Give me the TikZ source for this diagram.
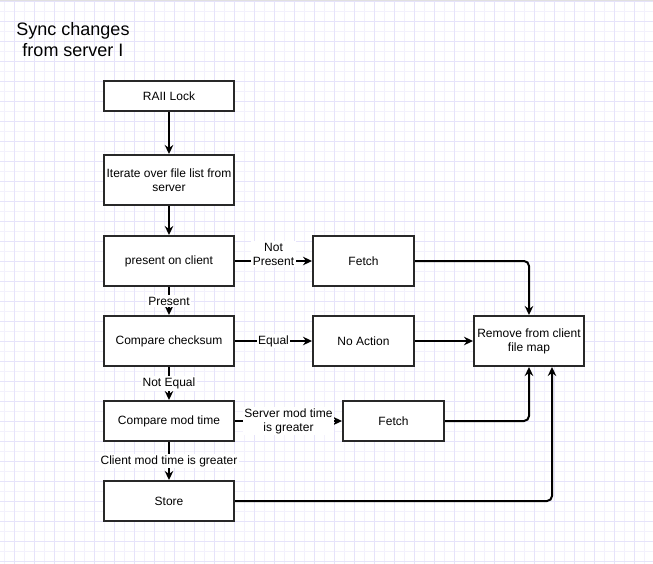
\documentclass[tikz,border=0pt]{standalone}
\usepackage{fontspec}
\setmainfont{Liberation Sans}
\usetikzlibrary{arrows.meta}
\definecolor{gridminor}{RGB}{243,241,252}
\definecolor{gridmajor}{RGB}{230,227,250}
\definecolor{boxline}{RGB}{40,40,40}
\begin{document}
\begin{tikzpicture}[x=1pt,y=-1pt,
  box/.style={draw=boxline,line width=2pt,fill=white,minimum width=130pt,inner sep=0pt,align=center,font=\fontsize{12}{14}\selectfont},
  conn/.style={line width=2pt,-{Stealth[length=9pt,width=8.5pt,inset=3pt]}},
  lbl/.style={fill=white,inner sep=1.5pt,align=center,font=\fontsize{12}{14}\selectfont}]
\useasboundingbox (0,0) rectangle (653,564);
\fill[white] (0,0) rectangle (653,564);
\foreach \x in {4.7,24.7,...,653} \draw[gridminor,line width=1pt] (\x,0) -- (\x,564);
\foreach \y in {11.7,31.7,...,564} \draw[gridminor,line width=1pt] (0,\y) -- (653,\y);
\foreach \x in {14.7,34.7,...,653} \draw[gridmajor,line width=1pt] (\x,0) -- (\x,564);
\foreach \y in {1.7,21.7,...,564} \draw[gridmajor,line width=1pt] (0,\y) -- (653,\y);
\fill[black!12] (0,0) rectangle (653,1);

\node[font=\fontsize{18}{21}\selectfont,align=center] (title) at (73,40) {Sync changes\\from server I};

\node[box,minimum height=30pt] (raii) at (169,96) {RAII Lock};
\node[box,minimum height=50pt] (iter) at (169,180) {Iterate over file list from\\server};
\node[box,minimum height=50pt] (pres) at (169,261) {present on client};
\node[box,minimum height=50pt] (cks) at (169,341) {Compare checksum};
\node[box,minimum height=40pt] (mod) at (169,421) {Compare mod time};
\node[box,minimum height=40pt] (store) at (169,501) {Store};
\node[box,minimum width=101pt,minimum height=50pt] (fetch1) at (363.5,261) {Fetch};
\node[box,minimum width=101pt,minimum height=50pt] (noact) at (363.5,341) {No Action};
\node[box,minimum width=101pt,minimum height=40pt] (fetch2) at (393.5,421) {Fetch};
\node[box,minimum width=110pt,minimum height=50pt] (remove) at (529,341) {Remove from client\\file map};

\draw[conn] (raii) -- (iter);
\draw[conn] (iter) -- (pres);
\draw[conn] (pres) -- node[lbl]{Present} (cks);
\draw[conn] (cks) -- node[lbl]{Not Equal} (mod);
\draw[conn] (mod) -- node[lbl]{Client mod time is greater} (store);
\draw[conn] (pres) -- node[lbl,yshift=7pt]{Not\\Present} (fetch1);
\draw[conn] (cks) -- node[lbl]{Equal} (noact);
\draw[conn] (mod) -- node[lbl]{Server mod time\\is greater} (fetch2);
\draw[conn,rounded corners=5pt] (fetch1.east) -| (remove.north);
\draw[conn] (noact) -- (remove);
\draw[conn,rounded corners=5pt] (fetch2.east) -| (remove.south);
\draw[conn,rounded corners=5pt] (store.east) -| ([xshift=23pt]remove.south);
\end{tikzpicture}
\end{document}
